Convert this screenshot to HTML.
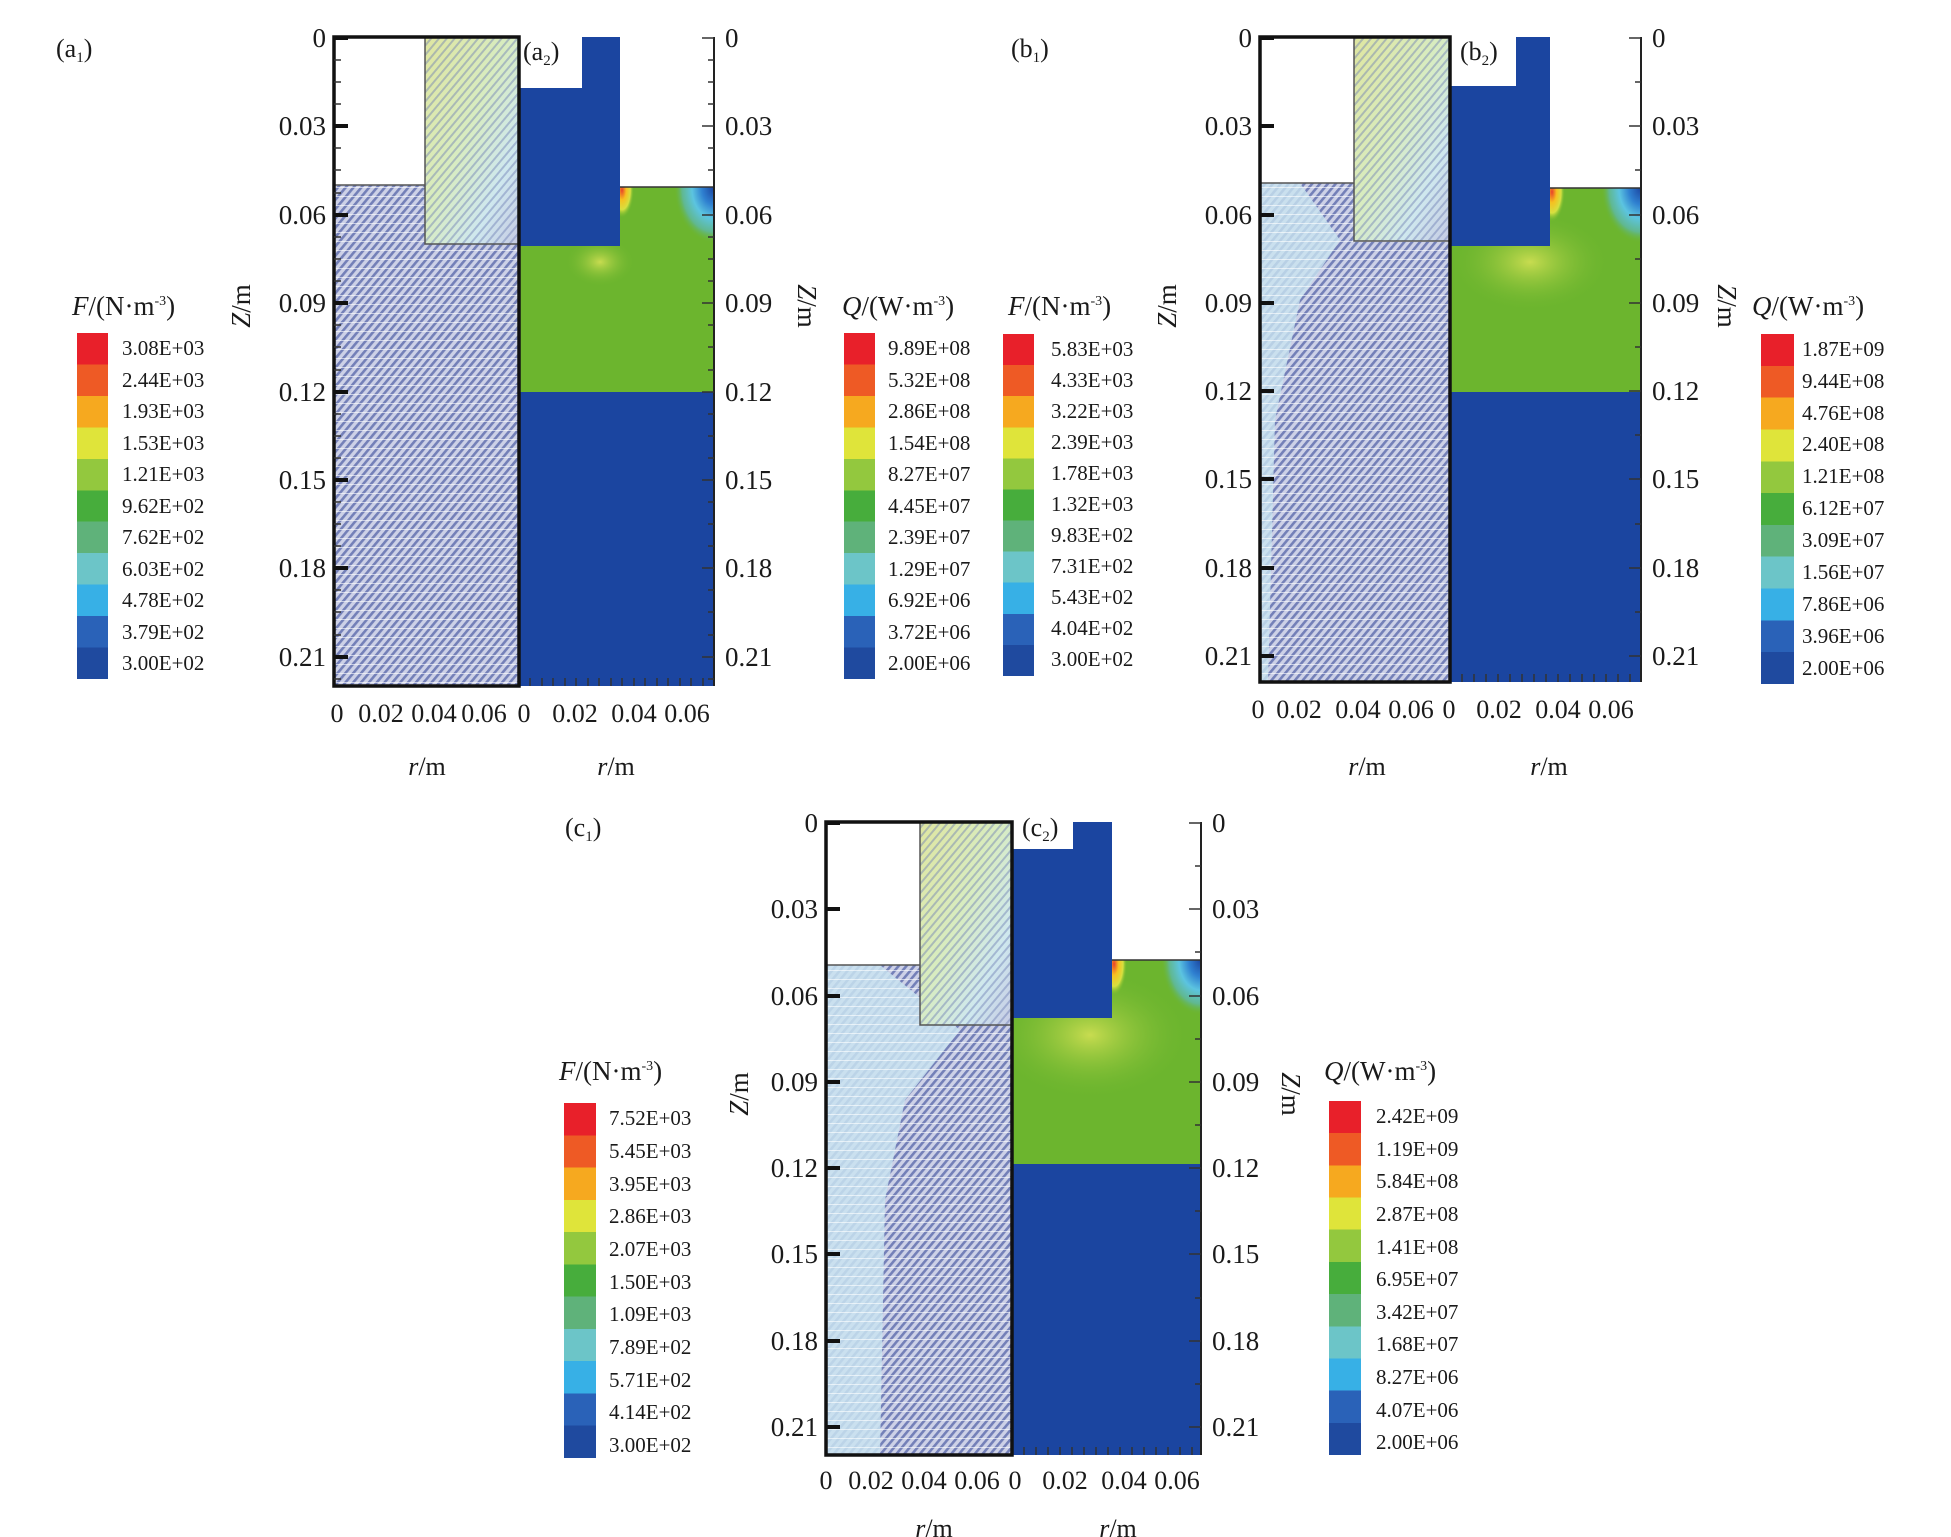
<!DOCTYPE html>
<html><head><meta charset="utf-8"><style>
html,body{margin:0;padding:0;background:#fff}
svg{display:block}
text{font-family:"Liberation Serif",serif;fill:#1a1a1a}
.t{font-size:27px}
.c{font-size:21px}
.h{font-size:26px}
</style></head><body>
<svg width="1951" height="1537" viewBox="0 0 1951 1537" xmlns="http://www.w3.org/2000/svg">
<defs>
<pattern id="hp" width="6" height="6" patternUnits="userSpaceOnUse" patternTransform="rotate(40)">
<rect width="6" height="6" fill="#cdd1e7"/><rect width="2.6" height="6" fill="#7480b8"/>
</pattern>
<pattern id="hl" width="6" height="6" patternUnits="userSpaceOnUse" patternTransform="rotate(40)">
<rect width="2" height="6" fill="#6f7fb5" opacity="0.45"/>
</pattern>
<pattern id="wl" width="10" height="9" patternUnits="userSpaceOnUse">
<rect y="7" width="10" height="1" fill="#fff" opacity="0.6"/>
</pattern>
<linearGradient id="yg" x1="0" y1="0" x2="1" y2="1">
<stop offset="0" stop-color="#dfe6a0"/><stop offset="0.45" stop-color="#d8ecc0"/><stop offset="0.75" stop-color="#cfe8ee"/><stop offset="1" stop-color="#c6cbe4"/>
</linearGradient>
<radialGradient id="hot" cx="0.5" cy="0.5" r="0.5">
<stop offset="0" stop-color="#e8402a"/><stop offset="0.35" stop-color="#f6c020"/><stop offset="0.7" stop-color="#d6e040"/><stop offset="1" stop-color="#6cb52e" stop-opacity="0"/>
</radialGradient>
<radialGradient id="cold" cx="0.5" cy="0.5" r="0.5">
<stop offset="0" stop-color="#1b45a0"/><stop offset="0.3" stop-color="#2f80d0"/><stop offset="0.55" stop-color="#5cc4e0"/><stop offset="0.8" stop-color="#60b890"/><stop offset="1" stop-color="#6cb52e" stop-opacity="0"/>
</radialGradient>
<radialGradient id="glow" cx="0.5" cy="0.5" r="0.5">
<stop offset="0" stop-color="#c8dc50"/><stop offset="1" stop-color="#6cb52e" stop-opacity="0"/>
</radialGradient>
<clipPath id="ga"><polygon points="519,246 620,246 620,187 714,187 714,392 519,392"/></clipPath>
<clipPath id="gb"><polygon points="1450,246 1550,246 1550,188 1641,188 1641,392 1450,392"/></clipPath>
<clipPath id="gc"><polygon points="1012,1018 1112,1018 1112,960 1201,960 1201,1164 1012,1164"/></clipPath>
<linearGradient id="cb" x1="0" y1="0" x2="0" y2="1">
<stop offset="0" stop-color="#e8202a"/><stop offset="0.0909" stop-color="#e8202a"/>
<stop offset="0.0909" stop-color="#ee5a25"/><stop offset="0.1818" stop-color="#ee5a25"/>
<stop offset="0.1818" stop-color="#f6a91f"/><stop offset="0.2727" stop-color="#f6a91f"/>
<stop offset="0.2727" stop-color="#dfe43a"/><stop offset="0.3636" stop-color="#dfe43a"/>
<stop offset="0.3636" stop-color="#93c83e"/><stop offset="0.4545" stop-color="#93c83e"/>
<stop offset="0.4545" stop-color="#47ad3c"/><stop offset="0.5454" stop-color="#47ad3c"/>
<stop offset="0.5454" stop-color="#5fb27a"/><stop offset="0.6363" stop-color="#5fb27a"/>
<stop offset="0.6363" stop-color="#6cc5c8"/><stop offset="0.7272" stop-color="#6cc5c8"/>
<stop offset="0.7272" stop-color="#37b0e6"/><stop offset="0.8181" stop-color="#37b0e6"/>
<stop offset="0.8181" stop-color="#2a62b8"/><stop offset="0.9090" stop-color="#2a62b8"/>
<stop offset="0.9090" stop-color="#1f4a9f"/><stop offset="1" stop-color="#1f4a9f"/>
</linearGradient>
</defs>

<!-- ================= PANEL A ================= -->
<text x="56" y="57" class="h">(a<tspan font-size="15" dy="5">1</tspan><tspan dy="-5">)</tspan></text>
<rect x="334" y="185" width="185" height="501" fill="url(#hp)"/>
<rect x="334" y="185" width="185" height="501" fill="url(#wl)"/>
<rect x="425" y="37" width="94" height="207" fill="url(#yg)"/>
<rect x="425" y="37" width="94" height="207" fill="url(#hl)"/>
<rect x="334" y="37" width="91" height="148" fill="#fff"/>
<path d="M334 185H425M425 37V244H519" stroke="#555" stroke-width="1.5" fill="none"/>
<rect x="519" y="37" width="195" height="649" fill="#1b45a0"/>
<rect x="519" y="37" width="63" height="51" fill="#fff"/>
<rect x="620" y="37" width="94" height="150" fill="#fff"/>
<rect x="519" y="246" width="195" height="146" fill="#6cb52e"/>
<rect x="620" y="187" width="94" height="59" fill="#6cb52e"/>
<g clip-path="url(#ga)">
<ellipse cx="622" cy="190" rx="12" ry="28" fill="url(#hot)"/>
<ellipse cx="600" cy="262" rx="35" ry="25" fill="url(#glow)"/>
<ellipse cx="714" cy="188" rx="40" ry="55" fill="url(#cold)"/>
</g>
<path d="M620 187H714" stroke="#333" stroke-width="1.5"/>
<rect x="334" y="37" width="185" height="649" fill="none" stroke="#111" stroke-width="3.5"/>
<path d="M714 37V686" stroke="#222" stroke-width="2"/>
<path d="M334 38h14M334 126h14M334 215h14M334 303h14M334 392h14M334 480h14M334 568h14M334 657h14" stroke="#111" stroke-width="4"/>
<path d="M334 60h7M334 82h7M334 104h7M334 148h7M334 170h7M334 193h7M334 237h7M334 259h7M334 281h7M334 325h7M334 347h7M334 370h7M334 414h7M334 436h7M334 458h7M334 502h7M334 524h7M334 546h7M334 590h7M334 612h7M334 635h7M334 679h7" stroke="#333" stroke-width="1.5"/>
<path d="M714 38h-12M714 126h-12M714 215h-12M714 303h-12M714 392h-12M714 480h-12M714 568h-12M714 657h-12M714 60h-6M714 82h-6M714 104h-6M714 148h-6M714 170h-6M714 237h-6M714 259h-6M714 281h-6M714 325h-6M714 347h-6M714 370h-6M714 414h-6M714 436h-6M714 458h-6M714 502h-6M714 524h-6M714 546h-6M714 590h-6M714 612h-6M714 635h-6M714 679h-6" stroke="#333" stroke-width="1.5"/>
<path d="M530 686v-8M542 686v-8M553 686v-8M565 686v-8M576 686v-8M588 686v-8M599 686v-8M611 686v-8M622 686v-8M634 686v-8M645 686v-8M657 686v-8M668 686v-8M680 686v-8M691 686v-8M703 686v-8" stroke="#333" stroke-width="1.5"/>
<text x="523" y="60" class="h">(a<tspan font-size="15" dy="5">2</tspan><tspan dy="-5">)</tspan></text>
<g class="t" text-anchor="end">
<text x="326" y="47">0</text><text x="326" y="135">0.03</text><text x="326" y="224">0.06</text><text x="326" y="312">0.09</text><text x="326" y="401">0.12</text><text x="326" y="489">0.15</text><text x="326" y="577">0.18</text><text x="326" y="666">0.21</text>
</g>
<g class="t">
<text x="725" y="47">0</text><text x="725" y="135">0.03</text><text x="725" y="224">0.06</text><text x="725" y="312">0.09</text><text x="725" y="401">0.12</text><text x="725" y="489">0.15</text><text x="725" y="577">0.18</text><text x="725" y="666">0.21</text>
</g>
<g class="h" text-anchor="middle">
<text x="337" y="722">0</text><text x="381" y="722">0.02</text><text x="434" y="722">0.04</text><text x="484" y="722">0.06</text><text x="524" y="722">0</text><text x="575" y="722">0.02</text><text x="634" y="722">0.04</text><text x="687" y="722">0.06</text>
<text x="427" y="775"><tspan font-style="italic">r</tspan>/m</text><text x="616" y="775"><tspan font-style="italic">r</tspan>/m</text>
</g>
<text class="t" transform="translate(250,306) rotate(-90)" text-anchor="middle"><tspan font-style="italic">Z</tspan>/m</text>
<text class="t" transform="translate(798,306) rotate(90)" text-anchor="middle"><tspan font-style="italic">Z</tspan>/m</text>
<text x="72" y="315" class="t"><tspan font-style="italic">F</tspan>/(N·m<tspan font-size="14" dy="-10">-3</tspan><tspan dy="10">)</tspan></text>
<rect x="77" y="333" width="31" height="346" fill="url(#cb)"/>
<g class="c">
<text x="122" y="355">3.08E+03</text><text x="122" y="387">2.44E+03</text><text x="122" y="418">1.93E+03</text><text x="122" y="450">1.53E+03</text><text x="122" y="481">1.21E+03</text><text x="122" y="513">9.62E+02</text><text x="122" y="544">7.62E+02</text><text x="122" y="576">6.03E+02</text><text x="122" y="607">4.78E+02</text><text x="122" y="639">3.79E+02</text><text x="122" y="670">3.00E+02</text>
</g>
<text x="842" y="315" class="t"><tspan font-style="italic">Q</tspan>/(W·m<tspan font-size="14" dy="-10">-3</tspan><tspan dy="10">)</tspan></text>
<rect x="844" y="333" width="31" height="346" fill="url(#cb)"/>
<g class="c">
<text x="888" y="355">9.89E+08</text><text x="888" y="387">5.32E+08</text><text x="888" y="418">2.86E+08</text><text x="888" y="450">1.54E+08</text><text x="888" y="481">8.27E+07</text><text x="888" y="513">4.45E+07</text><text x="888" y="544">2.39E+07</text><text x="888" y="576">1.29E+07</text><text x="888" y="607">6.92E+06</text><text x="888" y="639">3.72E+06</text><text x="888" y="670">2.00E+06</text>
</g>

<!-- ================= PANEL B ================= -->
<text x="1011" y="57" class="h">(b<tspan font-size="15" dy="5">1</tspan><tspan dy="-5">)</tspan></text>
<rect x="1260" y="183" width="190" height="499" fill="url(#hp)"/>
<polygon points="1260,183 1300,183 1340,240 1300,300 1275,420 1268,682 1260,682" fill="#c9e3f0" opacity="0.8"/>
<rect x="1260" y="183" width="190" height="499" fill="url(#wl)"/>
<rect x="1354" y="37" width="96" height="204" fill="url(#yg)"/>
<rect x="1354" y="37" width="96" height="204" fill="url(#hl)"/>
<rect x="1260" y="37" width="94" height="146" fill="#fff"/>
<path d="M1260 183H1354M1354 37V241H1450" stroke="#555" stroke-width="1.5" fill="none"/>
<rect x="1450" y="37" width="191" height="645" fill="#1b45a0"/>
<rect x="1450" y="37" width="66" height="49" fill="#fff"/>
<rect x="1550" y="37" width="91" height="151" fill="#fff"/>
<rect x="1450" y="246" width="191" height="146" fill="#6cb52e"/>
<rect x="1550" y="188" width="91" height="58" fill="#6cb52e"/>
<g clip-path="url(#gb)">
<ellipse cx="1530" cy="262" rx="80" ry="50" fill="url(#glow)"/>
<ellipse cx="1552" cy="192" rx="13" ry="30" fill="url(#hot)"/>
<ellipse cx="1641" cy="188" rx="40" ry="55" fill="url(#cold)"/>
</g>
<path d="M1550 188H1641" stroke="#333" stroke-width="1.5"/>
<rect x="1260" y="37" width="190" height="645" fill="none" stroke="#111" stroke-width="3.5"/>
<path d="M1641 37V682" stroke="#222" stroke-width="2"/>
<path d="M1260 38h14M1260 126h14M1260 215h14M1260 303h14M1260 391h14M1260 479h14M1260 568h14M1260 656h14" stroke="#111" stroke-width="4"/>
<path d="M1641 38h-12M1641 126h-12M1641 215h-12M1641 303h-12M1641 391h-12M1641 479h-12M1641 568h-12M1641 656h-12M1641 82h-6M1641 170h-6M1641 259h-6M1641 347h-6M1641 435h-6M1641 524h-6M1641 612h-6" stroke="#333" stroke-width="1.5"/>
<path d="M1462 682v-8M1474 682v-8M1486 682v-8M1498 682v-8M1510 682v-8M1522 682v-8M1534 682v-8M1546 682v-8M1558 682v-8M1570 682v-8M1582 682v-8M1594 682v-8M1606 682v-8M1618 682v-8M1630 682v-8" stroke="#333" stroke-width="1.5"/>
<text x="1460" y="60" class="h">(b<tspan font-size="15" dy="5">2</tspan><tspan dy="-5">)</tspan></text>
<g class="t" text-anchor="end">
<text x="1252" y="47">0</text><text x="1252" y="135">0.03</text><text x="1252" y="224">0.06</text><text x="1252" y="312">0.09</text><text x="1252" y="400">0.12</text><text x="1252" y="488">0.15</text><text x="1252" y="577">0.18</text><text x="1252" y="665">0.21</text>
</g>
<g class="t">
<text x="1652" y="47">0</text><text x="1652" y="135">0.03</text><text x="1652" y="224">0.06</text><text x="1652" y="312">0.09</text><text x="1652" y="400">0.12</text><text x="1652" y="488">0.15</text><text x="1652" y="577">0.18</text><text x="1652" y="665">0.21</text>
</g>
<g class="h" text-anchor="middle">
<text x="1258" y="718">0</text><text x="1299" y="718">0.02</text><text x="1358" y="718">0.04</text><text x="1411" y="718">0.06</text><text x="1449" y="718">0</text><text x="1499" y="718">0.02</text><text x="1558" y="718">0.04</text><text x="1611" y="718">0.06</text>
<text x="1367" y="775"><tspan font-style="italic">r</tspan>/m</text><text x="1549" y="775"><tspan font-style="italic">r</tspan>/m</text>
</g>
<text class="t" transform="translate(1176,306) rotate(-90)" text-anchor="middle"><tspan font-style="italic">Z</tspan>/m</text>
<text class="t" transform="translate(1718,306) rotate(90)" text-anchor="middle"><tspan font-style="italic">Z</tspan>/m</text>
<text x="1008" y="315" class="t"><tspan font-style="italic">F</tspan>/(N·m<tspan font-size="14" dy="-10">-3</tspan><tspan dy="10">)</tspan></text>
<rect x="1003" y="334" width="31" height="342" fill="url(#cb)"/>
<g class="c">
<text x="1051" y="356">5.83E+03</text><text x="1051" y="387">4.33E+03</text><text x="1051" y="418">3.22E+03</text><text x="1051" y="449">2.39E+03</text><text x="1051" y="480">1.78E+03</text><text x="1051" y="511">1.32E+03</text><text x="1051" y="542">9.83E+02</text><text x="1051" y="573">7.31E+02</text><text x="1051" y="604">5.43E+02</text><text x="1051" y="635">4.04E+02</text><text x="1051" y="666">3.00E+02</text>
</g>
<text x="1752" y="315" class="t"><tspan font-style="italic">Q</tspan>/(W·m<tspan font-size="14" dy="-10">-3</tspan><tspan dy="10">)</tspan></text>
<rect x="1761" y="334" width="33" height="350" fill="url(#cb)"/>
<g class="c">
<text x="1802" y="356">1.87E+09</text><text x="1802" y="388">9.44E+08</text><text x="1802" y="420">4.76E+08</text><text x="1802" y="451">2.40E+08</text><text x="1802" y="483">1.21E+08</text><text x="1802" y="515">6.12E+07</text><text x="1802" y="547">3.09E+07</text><text x="1802" y="579">1.56E+07</text><text x="1802" y="611">7.86E+06</text><text x="1802" y="643">3.96E+06</text><text x="1802" y="675">2.00E+06</text>
</g>

<!-- ================= PANEL C ================= -->
<text x="565" y="836" class="h">(c<tspan font-size="15" dy="5">1</tspan><tspan dy="-5">)</tspan></text>
<rect x="826" y="965" width="186" height="490" fill="url(#hp)"/>
<polygon points="826,965 880,965 960,1030 905,1100 885,1200 880,1455 826,1455" fill="#c9e3f0" opacity="0.85"/>
<rect x="826" y="965" width="186" height="490" fill="url(#wl)"/>
<rect x="920" y="822" width="92" height="203" fill="url(#yg)"/>
<rect x="920" y="822" width="92" height="203" fill="url(#hl)"/>
<rect x="826" y="822" width="94" height="143" fill="#fff"/>
<path d="M826 965H920M920 822V1025H1012" stroke="#555" stroke-width="1.5" fill="none"/>
<rect x="1012" y="822" width="189" height="633" fill="#1b45a0"/>
<rect x="1012" y="822" width="61" height="27" fill="#fff"/>
<rect x="1112" y="822" width="89" height="138" fill="#fff"/>
<rect x="1012" y="1018" width="189" height="146" fill="#6cb52e"/>
<rect x="1112" y="960" width="89" height="58" fill="#6cb52e"/>
<g clip-path="url(#gc)">
<ellipse cx="1090" cy="1035" rx="100" ry="65" fill="url(#glow)"/>
<ellipse cx="1114" cy="964" rx="13" ry="32" fill="url(#hot)"/>
<ellipse cx="1201" cy="960" rx="40" ry="55" fill="url(#cold)"/>
</g>
<path d="M1112 960H1201" stroke="#333" stroke-width="1.5"/>
<rect x="826" y="822" width="186" height="633" fill="none" stroke="#111" stroke-width="3.5"/>
<path d="M1201 822V1455" stroke="#222" stroke-width="2"/>
<path d="M826 823h14M826 909h14M826 996h14M826 1082h14M826 1168h14M826 1254h14M826 1341h14M826 1427h14" stroke="#111" stroke-width="4"/>
<path d="M1201 823h-12M1201 909h-12M1201 996h-12M1201 1082h-12M1201 1168h-12M1201 1254h-12M1201 1341h-12M1201 1427h-12M1201 866h-6M1201 952h-6M1201 1039h-6M1201 1125h-6M1201 1211h-6M1201 1298h-6M1201 1384h-6" stroke="#333" stroke-width="1.5"/>
<path d="M1024 1455v-8M1036 1455v-8M1048 1455v-8M1060 1455v-8M1072 1455v-8M1084 1455v-8M1096 1455v-8M1108 1455v-8M1120 1455v-8M1132 1455v-8M1144 1455v-8M1156 1455v-8M1168 1455v-8M1180 1455v-8M1192 1455v-8" stroke="#333" stroke-width="1.5"/>
<text x="1022" y="836" class="h">(c<tspan font-size="15" dy="5">2</tspan><tspan dy="-5">)</tspan></text>
<g class="t" text-anchor="end">
<text x="818" y="832">0</text><text x="818" y="918">0.03</text><text x="818" y="1005">0.06</text><text x="818" y="1091">0.09</text><text x="818" y="1177">0.12</text><text x="818" y="1263">0.15</text><text x="818" y="1350">0.18</text><text x="818" y="1436">0.21</text>
</g>
<g class="t">
<text x="1212" y="832">0</text><text x="1212" y="918">0.03</text><text x="1212" y="1005">0.06</text><text x="1212" y="1091">0.09</text><text x="1212" y="1177">0.12</text><text x="1212" y="1263">0.15</text><text x="1212" y="1350">0.18</text><text x="1212" y="1436">0.21</text>
</g>
<g class="h" text-anchor="middle">
<text x="826" y="1489">0</text><text x="871" y="1489">0.02</text><text x="924" y="1489">0.04</text><text x="977" y="1489">0.06</text><text x="1015" y="1489">0</text><text x="1065" y="1489">0.02</text><text x="1124" y="1489">0.04</text><text x="1177" y="1489">0.06</text>
<text x="934" y="1537"><tspan font-style="italic">r</tspan>/m</text><text x="1118" y="1537"><tspan font-style="italic">r</tspan>/m</text>
</g>
<text class="t" transform="translate(748,1094) rotate(-90)" text-anchor="middle"><tspan font-style="italic">Z</tspan>/m</text>
<text class="t" transform="translate(1282,1094) rotate(90)" text-anchor="middle"><tspan font-style="italic">Z</tspan>/m</text>
<text x="559" y="1080" class="t"><tspan font-style="italic">F</tspan>/(N·m<tspan font-size="14" dy="-10">-3</tspan><tspan dy="10">)</tspan></text>
<rect x="564" y="1103" width="32" height="355" fill="url(#cb)"/>
<g class="c">
<text x="609" y="1125">7.52E+03</text><text x="609" y="1158">5.45E+03</text><text x="609" y="1191">3.95E+03</text><text x="609" y="1223">2.86E+03</text><text x="609" y="1256">2.07E+03</text><text x="609" y="1289">1.50E+03</text><text x="609" y="1321">1.09E+03</text><text x="609" y="1354">7.89E+02</text><text x="609" y="1387">5.71E+02</text><text x="609" y="1419">4.14E+02</text><text x="609" y="1452">3.00E+02</text>
</g>
<text x="1324" y="1080" class="t"><tspan font-style="italic">Q</tspan>/(W·m<tspan font-size="14" dy="-10">-3</tspan><tspan dy="10">)</tspan></text>
<rect x="1329" y="1101" width="32" height="354" fill="url(#cb)"/>
<g class="c">
<text x="1376" y="1123">2.42E+09</text><text x="1376" y="1156">1.19E+09</text><text x="1376" y="1188">5.84E+08</text><text x="1376" y="1221">2.87E+08</text><text x="1376" y="1254">1.41E+08</text><text x="1376" y="1286">6.95E+07</text><text x="1376" y="1319">3.42E+07</text><text x="1376" y="1351">1.68E+07</text><text x="1376" y="1384">8.27E+06</text><text x="1376" y="1417">4.07E+06</text><text x="1376" y="1449">2.00E+06</text>
</g>
</svg>
</body></html>
